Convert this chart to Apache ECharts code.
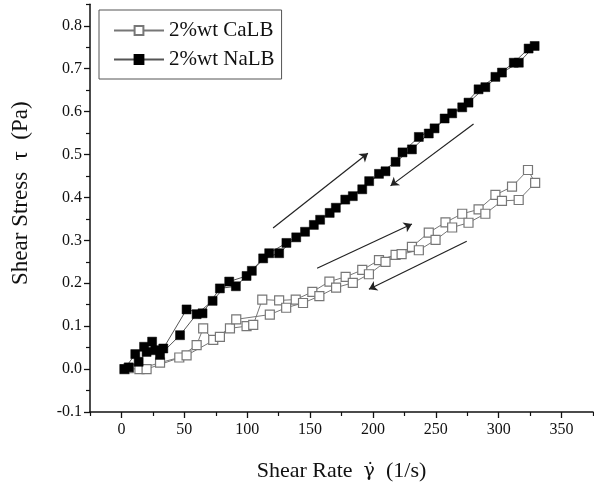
<!DOCTYPE html>
<html>
<head>
<meta charset="utf-8">
<script src="https://cdn.jsdelivr.net/npm/echarts@6/dist/echarts.min.js"></script>
<style>html,body{margin:0;padding:0;background:#fff;}#c{width:594px;height:491px;}</style>
</head>
<body>
<div id="c"></div>
<script>
// ---- data ----
const seriesNames = ['2%wt CaLB', '2%wt NaLB'];
// CaLB: rising sweep (x, stress)
const caUpX = [2.4, 14.3, 30.7, 46, 59.8, 65, 73, 86.3, 99.5, 104.8, 112, 125.4, 138.6, 151.8, 165.4, 178.3, 191.5, 204.8, 218, 231, 244.4, 257.7, 271, 284, 297.4, 310.6, 323.3];
const caUpY = [0.0, 0.0, 0.015, 0.027, 0.056, 0.095, 0.068, 0.095, 0.1, 0.103, 0.162, 0.16, 0.162, 0.18, 0.204, 0.215, 0.231, 0.254, 0.266, 0.285, 0.318, 0.342, 0.362, 0.372, 0.406, 0.425, 0.464];
// CaLB: falling sweep
const caDownX = [329, 315.9, 302.6, 289.4, 276, 263, 249.8, 236.5, 222.8, 210, 196.8, 184, 170.7, 157.4, 144.4, 131, 118, 91.3, 78.3, 51.8, 20, 5.8];
const caDownY = [0.434, 0.394, 0.392, 0.362, 0.341, 0.33, 0.301, 0.277, 0.268, 0.25, 0.221, 0.201, 0.19, 0.17, 0.154, 0.143, 0.127, 0.116, 0.075, 0.032, 0.0, 0.002];
// NaLB: rising sweep
const naUpX = [2.4, 11, 18, 24.4, 30.7, 46.6, 59.8, 72.5, 85.7, 99.5, 112.7, 125.4, 139, 153, 165.6, 178, 191.5, 204.8, 218, 231, 244.4, 257, 271, 284, 297.4, 312, 323.8];
const naUpY = [0.0, 0.035, 0.052, 0.064, 0.033, 0.079, 0.128, 0.159, 0.204, 0.217, 0.258, 0.27, 0.307, 0.336, 0.364, 0.395, 0.419, 0.455, 0.483, 0.512, 0.549, 0.584, 0.61, 0.652, 0.681, 0.714, 0.747];
// NaLB: falling sweep
const naDownX = [328.6, 316, 302.6, 289.4, 276, 263, 249, 236.5, 223.5, 210, 197, 184, 170.5, 158, 146, 131.2, 117.5, 103.7, 91, 78.3, 64.5, 51.8, 33.3, 27, 20, 13.7, 5.8];
const naDownY = [0.753, 0.714, 0.691, 0.657, 0.621, 0.596, 0.561, 0.541, 0.505, 0.461, 0.438, 0.403, 0.376, 0.348, 0.32, 0.294, 0.27, 0.229, 0.193, 0.188, 0.13, 0.139, 0.048, 0.044, 0.04, 0.017, 0.004];
// annotation arrows (data coordinates): start -> end (arrow head at end)
const arrowStartX = [120.6, 280, 155.6, 274.6];
const arrowStartY = [0.329, 0.571, 0.235, 0.298];
const arrowEndX = [196, 214, 231, 196.8];
const arrowEndY = [0.503, 0.427, 0.338, 0.186];
// axis ticks
const xTicks = [0, 50, 100, 150, 200, 250, 300, 350];
const xMinorTicks = [-25, 25, 75, 125, 175, 225, 275, 325, 375];
const yTicks = [-0.1, 0.0, 0.1, 0.2, 0.3, 0.4, 0.5, 0.6, 0.7, 0.8];
const yMinorTicks = [-0.05, 0.05, 0.15, 0.25, 0.35, 0.45, 0.55, 0.65, 0.75, 0.85];
const xTitle = '{a|Shear Rate  }{g|\u03B3\u0307}{a|  (1/s)}';
const yTitle = 'Shear Stress  \u03C4  (Pa)';

function pairs(xs, ys) { return xs.map((x, i) => [x, ys[i]]); }
const caData = pairs(caUpX, caUpY).concat(pairs(caDownX, caDownY));
const naData = pairs(naUpX, naUpY).concat(pairs(naDownX, naDownY));
const arrows = arrowStartX.map((x, i) => [{ coord: [x, arrowStartY[i]] }, { coord: [arrowEndX[i], arrowEndY[i]] }]);

const FONT = 'Liberation Serif';
const chart = echarts.init(document.getElementById('c'), null, { renderer: 'canvas' });
const axisCommon = { lineStyle: { color: '#111', width: 1.5 } };
chart.setOption({
  animation: false,
  backgroundColor: '#fff',
  grid: { left: 90, right: 1, top: 4.35, bottom: 79 },
  legend: {
    data: seriesNames,
    left: 99, top: 10,
    orient: 'vertical',
    padding: [10, 7, 9, 14],
    itemGap: 8,
    itemWidth: 50, itemHeight: 11,
    borderColor: '#555', borderWidth: 1,
    textStyle: { fontFamily: FONT, fontSize: 21, color: '#111' }
  },
  xAxis: [{
    type: 'value', min: -25, max: 375,
    axisLine: { show: true, onZero: false, ...axisCommon },
    axisTick: { show: true, inside: false, length: 6, customValues: xTicks, lineStyle: { color: '#111', width: 1.3 } },
    axisLabel: { customValues: xTicks, fontFamily: FONT, fontSize: 16, color: '#111', margin: 10 },
    splitLine: { show: false },
    name: xTitle, nameLocation: 'middle', nameGap: 48,
    nameTextStyle: { fontFamily: FONT, fontSize: 22, color: '#111',
      rich: { a: { fontFamily: FONT, fontSize: 22, color: '#111' },
              g: { fontFamily: 'DejaVu Serif', fontSize: 19, color: '#111' } } }
  }, {
    type: 'value', min: -25, max: 375, position: 'bottom',
    axisLine: { show: false, onZero: false },
    axisTick: { show: true, length: 4, customValues: xMinorTicks, lineStyle: { color: '#111', width: 1.2 } },
    axisLabel: { show: false }, splitLine: { show: false }
  }],
  yAxis: [{
    type: 'value', min: -0.1, max: 0.85,
    axisLine: { show: true, onZero: false, ...axisCommon },
    axisTick: { show: true, length: 6, customValues: yTicks, lineStyle: { color: '#111', width: 1.3 } },
    axisLabel: { customValues: yTicks, fontFamily: FONT, fontSize: 16, color: '#111', margin: 8,
      formatter: v => v.toFixed(1) },
    splitLine: { show: false },
    name: yTitle, nameLocation: 'middle', nameGap: 58,
    nameTextStyle: { fontFamily: FONT, fontSize: 23, color: '#111', padding: [0, 0, 0, 30] }
  }, {
    type: 'value', min: -0.1, max: 0.85, position: 'left',
    axisLine: { show: false, onZero: false },
    axisTick: { show: true, length: 4, customValues: yMinorTicks, lineStyle: { color: '#111', width: 1.2 } },
    axisLabel: { show: false }, splitLine: { show: false }
  }],
  series: [{
    name: seriesNames[0], type: 'line', data: caData,
    symbol: 'rect', symbolSize: 9,
    itemStyle: { color: '#fff', borderColor: '#777', borderWidth: 1.2 },
    lineStyle: { color: '#777', width: 1 },
    z: 2
  }, {
    name: seriesNames[1], type: 'line', data: naData,
    symbol: 'rect', symbolSize: 9,
    itemStyle: { color: '#000', borderColor: '#000', borderWidth: 0.5 },
    lineStyle: { color: '#555', width: 1 },
    z: 3,
    markLine: {
      silent: true, symbol: ['none', 'arrow'], symbolSize: 8,
      label: { show: false },
      lineStyle: { color: '#222', width: 1.2, type: 'solid' },
      data: arrows
    }
  }]
});
</script>
</body>
</html>
